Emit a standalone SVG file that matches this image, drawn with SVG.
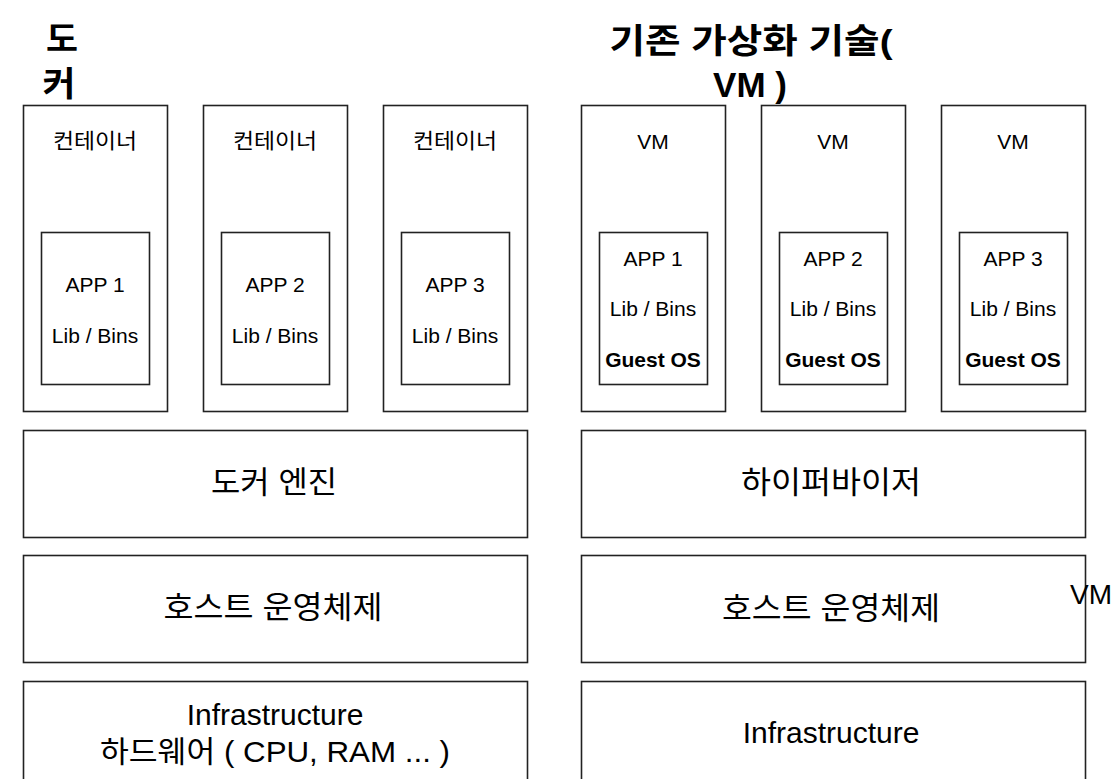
<svg xmlns="http://www.w3.org/2000/svg" width="1112" height="779" viewBox="0 0 1112 779">
<style>
.box{fill:#fff;stroke:#222;stroke-width:1.6}
text{font-family:"Liberation Sans","Noto Sans CJK KR",sans-serif;fill:#000;text-anchor:middle}
.t21{font-size:21px}
.b21{font-size:21px;font-weight:bold}
.t30{font-size:30px}
.k30{font-size:31px}
.h32{font-size:34px;font-weight:bold}
</style>
<rect width="1112" height="779" fill="#fff"/>
<g id="title-docker">
<text class="h32" x="62" y="51" textLength="32" lengthAdjust="spacingAndGlyphs">도</text>
<text class="h32" x="59" y="96" textLength="33" lengthAdjust="spacingAndGlyphs">커</text>
</g>
<g id="title-vm">
<text class="h32" x="751" y="53" textLength="283" lengthAdjust="spacingAndGlyphs">기존 가상화 기술(</text>
<text class="h32" x="750" y="97" style="font-size:35px">VM )</text>
</g>
<g id="container1"><rect class="box" x="23.5" y="105.5" width="144" height="306"/><text class="t21" x="95" y="148" textLength="84" lengthAdjust="spacingAndGlyphs">컨테이너</text>
<rect class="box" x="41.5" y="232.5" width="108" height="152"/><text class="t21" x="95" y="292">APP 1</text><text class="t21" x="95" y="343">Lib / Bins</text></g>
<g id="container2"><rect class="box" x="203.5" y="105.5" width="144" height="306"/><text class="t21" x="275" y="148" textLength="84" lengthAdjust="spacingAndGlyphs">컨테이너</text>
<rect class="box" x="221.5" y="232.5" width="108" height="152"/><text class="t21" x="275" y="292">APP 2</text><text class="t21" x="275" y="343">Lib / Bins</text></g>
<g id="container3"><rect class="box" x="383.5" y="105.5" width="144" height="306"/><text class="t21" x="455" y="148" textLength="84" lengthAdjust="spacingAndGlyphs">컨테이너</text>
<rect class="box" x="401.5" y="232.5" width="108" height="152"/><text class="t21" x="455" y="292">APP 3</text><text class="t21" x="455" y="343">Lib / Bins</text></g>
<g id="vm1"><rect class="box" x="581.5" y="105.5" width="144" height="306"/><text class="t21" x="653" y="149">VM</text>
<rect class="box" x="599.5" y="232.5" width="108" height="152"/><text class="t21" x="653" y="266">APP 1</text><text class="t21" x="653" y="316">Lib / Bins</text><text class="b21" x="653" y="367">Guest OS</text></g>
<g id="vm2"><rect class="box" x="761.5" y="105.5" width="144" height="306"/><text class="t21" x="833" y="149">VM</text>
<rect class="box" x="779.5" y="232.5" width="108" height="152"/><text class="t21" x="833" y="266">APP 2</text><text class="t21" x="833" y="316">Lib / Bins</text><text class="b21" x="833" y="367">Guest OS</text></g>
<g id="vm3"><rect class="box" x="941.5" y="105.5" width="144" height="306"/><text class="t21" x="1013" y="149">VM</text>
<rect class="box" x="959.5" y="232.5" width="108" height="152"/><text class="t21" x="1013" y="266">APP 3</text><text class="t21" x="1013" y="316">Lib / Bins</text><text class="b21" x="1013" y="367">Guest OS</text></g>
<g id="docker-engine"><rect class="box" x="23.5" y="430.5" width="504" height="107"/><text class="k30" x="274" y="493" textLength="126" lengthAdjust="spacingAndGlyphs">도커 엔진</text></g>
<g id="host-os-left"><rect class="box" x="23.5" y="555.5" width="504" height="107"/><text class="k30" x="273" y="618" textLength="219" lengthAdjust="spacingAndGlyphs">호스트 운영체제</text></g>
<g id="infra-left"><rect class="box" x="23.5" y="681.5" width="504" height="110"/><text class="t30" x="275" y="725">Infrastructure</text><text class="t30" x="275" y="762" textLength="350" lengthAdjust="spacingAndGlyphs">하드웨어 ( CPU, RAM ... )</text></g>
<g id="hypervisor"><rect class="box" x="581.5" y="430.5" width="504" height="107"/><text class="k30" x="831" y="493" textLength="180" lengthAdjust="spacingAndGlyphs">하이퍼바이저</text></g>
<g id="host-os-right"><rect class="box" x="581.5" y="555.5" width="504" height="107"/><text class="k30" x="831" y="619" textLength="218" lengthAdjust="spacingAndGlyphs">호스트 운영체제</text></g>
<g id="infra-right"><rect class="box" x="581.5" y="681.5" width="504" height="110"/><text class="t30" x="831" y="743">Infrastructure</text></g>
<g id="vm-label"><text class="t30" x="1070" y="604" style="text-anchor:start;font-size:28px">VM</text></g>
<g id="connectors"></g>
</svg>
